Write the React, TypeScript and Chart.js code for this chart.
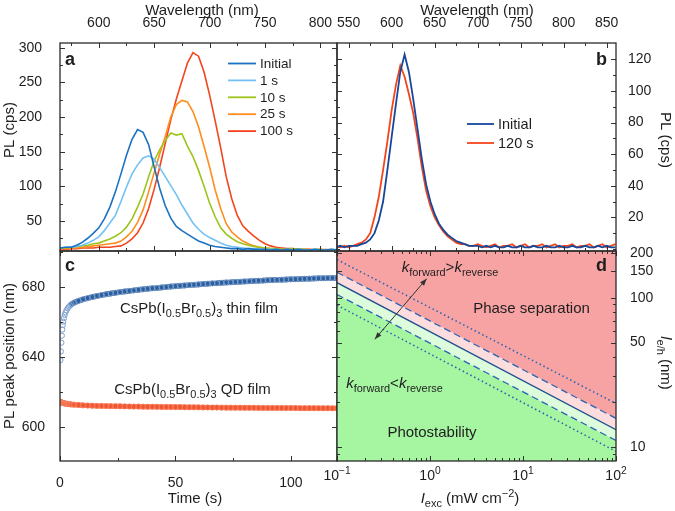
import React, { useEffect, useRef } from 'react';
import { Chart, registerables } from 'chart.js';

Chart.register(...registerables);

const FONT = '"Liberation Sans", Arial, Helvetica, sans-serif';
const TXT = '#1e1e1e';

// ---------- Panel a : PL spectra of thin film ----------
const wlA = [565,570,575,580,585,590,595,600,605,610,615,620,625,630,635,640,645,650,655,660,665,670,675,680,685,690,695,700,705,710,715,720,725,730,735,740,745,750,755,760,765,770,775,780,785,790,795,800,805,810,815];
const aInitial = [11,12,12,15,19,25,32,40,53,70, 92,118,145,168,182,178,160,128,97,72, 54,42,36,31,26,21,18,15,13,12, 11,10,10,9,10,9,9,9,8,9, 8,9,8,9,8,8,9,8,8,9, 8];
const a1s = [11,12,12,13,15,18,22,27,36,47, 58,78,99,118,131,141,144,139,127,114, 101,88,73,60,47,38,31,26,22,18, 15,13,12,11,10,10,9,9,9,9, 8,9,8,9,8,8,9,8,8,9, 8];
const a10s = [11,11,12,13,14,15,17,18,21,24, 28,33,41,53,70,89,114,137,153,166, 177,174,176,158,143,123,100,76,56,40, 31,25,20,17,15,13,12,11,10,10, 9,9,10,9,9,8,9,9,8,8, 9];
const a25s = [10,10,11,11,12,13,14,15,16,17, 18,21,27,35,48,66,92,120,147,172, 200,218,224,222,208,186,158,128,95,68, 46,34,27,21,17,14,12,11,10,10, 9,9,9,9,8,9,8,8,9,8, 8];
const a100s = [9,9,10,10,11,11,11,12,12,12, 13,14,18,24,33,47,68,96,128,162, 196,226,252,278,293,288,265,232,195,156, 114,82,58,43,35,28,22,17,14,12, 11,10,10,9,9,9,8,9,8,8, 8];
const aLabels = ['Initial', '1 s', '10 s', '25 s', '100 s'];
const aXTicks = [600, 650, 700, 750, 800];
const aXMinor = [575, 625, 675, 725, 775];
const aYTicks = [50, 100, 150, 200, 250, 300];
const aYMinor = [25, 75, 125, 175, 225, 275];

// ---------- Panel b : PL spectra of QD film ----------
const wlB = [535,540,545,550,555,560,565,570,575,580, 585,590,595,600,605,610,615,620,625,630, 635,640,645,650,655,660,665,670,675,680, 685,690,695,700,705,710,715,720,725,730, 735,740,745,750,755,760,765,770,775,780, 785,790,795,800,805,810,815,820,825,830, 835,840,845,850,855,860];
const bInitial = [1,2,1,2,2,2,3,4,6,10, 18,30,50,71,92,112,123,112,95,76, 57,41,30,22,16,12,9,7,5,4, 3,2,2,2,1,2,1,2,1,1, 2,1,1,2,1,1,2,1,1,2, 1,1,2,1,1,2,1,1,2,1, 1,2,1,2,1,1];
const b120s = [2,1,2,1,2,3,4,6,10,20, 33,50,68,88,104,116,109,98,86,70, 52,37,27,20,15,11,8,6,4,3, 3,2,2,3,2,1,2,3,1,2, 2,3,1,2,3,1,2,2,3,1, 2,3,1,2,2,3,1,2,2,3, 1,2,3,1,2,3];
const bLabels = ['Initial', '120 s'];
const bXTicks = [550, 600, 650, 700, 750, 800, 850];
const bXMinor = [575, 625, 675, 725, 775, 825];
const bYTicks = [20, 40, 60, 80, 100, 120];
const bYMinor = [0, 10, 30, 50, 70, 90, 110];

// ---------- Panel c : PL peak position vs time ----------
const cTime = [0.2,0.4,0.6,0.8,1.0,1.2,1.4,1.7,2.0,2.4,2.8,3.3,3.8,4.4,5,
  6,8,10,12,14,16,18,20,22,24,
  26,28,30,32,34,36,38,40,42,44,
  46,48,50,52,54,56,58,60,62,64,
  66,68,70,72,74,76,78,80,82,84,
  86,88,90,92,94,96,98,100,102,104,
  106,108,110,112,114,116,118,120];
const cThinFilm = [638,643,648,652,655.5,658,660,662,663.8,665.3,666.5,667.6,668.5,669.3,670,
  670.8,671.9,672.8,673.5,674.1,674.7,675.2,675.7,676.1,676.5,
  676.9,677.3,677.6,677.9,678.2,678.5,678.8,679.1,679.3,679.6,
  679.8,680.1,680.3,680.5,680.7,680.9,681.1,681.3,681.5,681.7,
  681.9,682.0,682.2,682.4,682.5,682.7,682.8,683.0,683.1,683.3,
  683.4,683.5,683.7,683.8,683.9,684.0,684.1,684.2,684.3,684.4,
  684.5,684.6,684.7,684.8,684.8,684.9,685.0,685.0];
const cQDFilm = [614.2,614.0,613.9,613.8,613.7,613.6,613.5,613.4,613.3,613.2,613.1,613.0,612.9,612.8,612.7,
  612.6,612.4,612.2,612.1,612.0,611.9,611.85,611.8,611.75,611.7,
  611.65,611.6,611.55,611.5,611.5,611.45,611.4,611.4,611.35,611.3,
  611.3,611.25,611.2,611.2,611.15,611.1,611.1,611.05,611.0,611.0,
  610.95,610.95,610.9,610.9,610.9,610.85,610.85,610.8,610.8,610.8,
  610.75,610.75,610.7,610.7,610.7,610.7,610.65,610.65,610.65,610.6,
  610.6,610.6,610.6,610.55,610.55,610.55,610.5,610.5];
const cXTicks = [0, 50, 100];
const cXMinor = [25, 75];
const cYTicks = [600, 640, 680];
const cYMinor = [620, 660, 700];

// ---------- Panel d : phase diagram ----------
const dIexc = [0.1, 100];
const dSolid = [126, 13];
const dDashUpper = [148, 15.5];
const dDashLower = [105, 11];
const dDotUpper = [180, 19.5];
const dDotLower = [89, 9.3];
const dArrowI = [0.92, 0.255];
const dArrowL = [134, 52.6];
const dXTicks = [0.1, 1, 10, 100];
const dXTickExp = ['\u22121', '0', '1', '2'];
const dXMinor = [0.2,0.3,0.4,0.5,0.6,0.7,0.8,0.9,2,3,4,5,6,7,8,9,20,30,40,50,60,70,80,90];
const dYTicks = [10, 50, 100, 150, 200];
const dYMinor = [9, 20, 30, 40, 60, 70, 80, 90];

// ---------- colours ----------
const aColors = ['#1a72c2', '#72c1f4', '#9dc41b', '#ff8d1c', '#f4441d'];
const bColors = ['#17479b', '#f4441d'];
const C_BLUE = '#2c5f9f';
const C_BLUE_LIGHT = '#7d9fcc';
const C_RED = '#f25630';
const C_RED_LIGHT = '#f7805f';
const SALMON = '#f8a3a3';
const PINK = '#fcdcdc';
const LGREEN = '#dcfcdc';
const GREEN = '#a5f5a1';
const D_NAVY = '#1c4f8f';
const D_BLUE = '#2b64b4';

// ---------- text helpers ----------
type Seg = { t: string; it?: boolean; sub?: boolean; sup?: boolean; b?: boolean };
function fontOf(s: Seg, size: number) {
  const sz = s.sub || s.sup ? size * 0.73 : size;
  return `${s.it ? 'italic ' : ''}${s.b ? 'bold ' : ''}${sz}px ${FONT}`;
}
function drawRich(ctx: CanvasRenderingContext2D, segs: Seg[], x: number, y: number, size: number, align = 'center', color = TXT) {
  ctx.save();
  ctx.fillStyle = color;
  ctx.textAlign = 'left';
  ctx.textBaseline = 'alphabetic';
  let w = 0;
  for (const s of segs) { ctx.font = fontOf(s, size); w += ctx.measureText(s.t).width; }
  let cx = align === 'center' ? x - w / 2 : align === 'right' ? x - w : x;
  for (const s of segs) {
    ctx.font = fontOf(s, size);
    const dy = s.sub ? size * 0.28 : s.sup ? -size * 0.42 : 0;
    ctx.fillText(s.t, cx, y + dy);
    cx += ctx.measureText(s.t).width;
  }
  ctx.restore();
}
function drawRot(ctx: CanvasRenderingContext2D, segs: Seg[], x: number, y: number, size: number, angle: number) {
  ctx.save();
  ctx.translate(x, y);
  ctx.rotate(angle);
  drawRich(ctx, segs, 0, 0, size, 'center');
  ctx.restore();
}

type Decor = {
  xId: string; yId: string;
  xMajor: number[]; xMinor: number[]; yMajor: number[]; yMinor: number[];
  draw?: (chart: any) => void;
};
function decorPlugin(d: Decor) {
  return {
    id: 'decor',
    afterDraw(chart: any) {
      const { ctx, chartArea: ca } = chart;
      const xs = chart.scales[d.xId];
      const ys = chart.scales[d.yId];
      ctx.save();
      ctx.strokeStyle = '#333';
      ctx.lineWidth = 1;
      ctx.beginPath();
      const xt = (vals: number[], len: number) => vals.forEach((v) => {
        const p = Math.round(xs.getPixelForValue(v)) + 0.5;
        ctx.moveTo(p, ca.top); ctx.lineTo(p, ca.top + len);
        ctx.moveTo(p, ca.bottom); ctx.lineTo(p, ca.bottom - len);
      });
      const yt = (vals: number[], len: number) => vals.forEach((v) => {
        const p = Math.round(ys.getPixelForValue(v)) + 0.5;
        ctx.moveTo(ca.left, p); ctx.lineTo(ca.left + len, p);
        ctx.moveTo(ca.right, p); ctx.lineTo(ca.right - len, p);
      });
      xt(d.xMajor, 5); xt(d.xMinor, 3); yt(d.yMajor, 5); yt(d.yMinor, 3);
      ctx.stroke();
      ctx.lineWidth = 1.3;
      ctx.strokeStyle = '#2a2a2a';
      ctx.strokeRect(ca.left, ca.top, ca.right - ca.left, ca.bottom - ca.top);
      ctx.restore();
      if (d.draw) d.draw(chart);
    },
  };
}

const tickFont = { family: FONT, size: 14 };
const baseAxis = (extra: any) => ({
  grid: { display: false },
  border: { display: false },
  ...extra,
  ticks: { color: TXT, font: tickFont, autoSkip: false, maxRotation: 0, minRotation: 0, callback: (v: any) => String(v), ...(extra.ticks || {}) },
});
const setTicks = (vals: number[]) => (s: any) => { s.ticks = vals.map((v) => ({ value: v })); };
const baseOptions = (padding: any, scales: any, extraPlugins: any = {}) => ({
  responsive: false,
  maintainAspectRatio: false,
  animation: false,
  devicePixelRatio: 1,
  events: [],
  layout: { padding },
  plugins: { legend: { display: false }, tooltip: { enabled: false }, ...extraPlugins },
  scales,
});

function makeA(canvas: HTMLCanvasElement) {
  const series = [aInitial, a1s, a10s, a25s, a100s];
  return new Chart(canvas, {
    type: 'line',
    data: {
      datasets: series.map((vals, k) => ({
        label: aLabels[k],
        data: wlA.map((x, i) => ({ x, y: vals[i] })),
        borderColor: aColors[k],
        borderWidth: 1.6,
        pointRadius: 0,
        fill: false,
        tension: 0,
      })),
    },
    options: baseOptions({ left: 0, top: 0, right: 338, bottom: 260 }, {
      x: baseAxis({ type: 'linear', position: 'top', min: 565, max: 815, ticks: { padding: 3 },
        afterBuildTicks: setTicks(aXTicks), afterFit: (s: any) => { s.height = 43; } }),
      y: baseAxis({ type: 'linear', position: 'left', min: 6.6, max: 307, ticks: { padding: 10 },
        afterBuildTicks: setTicks(aYTicks), afterFit: (s: any) => { s.width = 60; } }),
    }) as any,
    plugins: [decorPlugin({
      xId: 'x', yId: 'y', xMajor: aXTicks, xMinor: aXMinor, yMajor: aYTicks, yMinor: aYMinor,
      draw: (chart: any) => {
        const ctx = chart.ctx;
        ctx.save();
        aLabels.forEach((lab, k) => {
          const y = 63.5 + k * 16.9;
          ctx.strokeStyle = aColors[k];
          ctx.lineWidth = 1.8;
          ctx.beginPath(); ctx.moveTo(228, y); ctx.lineTo(256, y); ctx.stroke();
          ctx.fillStyle = TXT;
          ctx.font = `13.5px ${FONT}`;
          ctx.textAlign = 'left';
          ctx.textBaseline = 'middle';
          ctx.fillText(lab, 260, y + 0.5);
        });
        ctx.restore();
        drawRich(ctx, [{ t: 'Wavelength (nm)' }], 202, 15, 15);
        drawRot(ctx, [{ t: 'PL (cps)' }], 14, 130, 15, -Math.PI / 2);
        drawRich(ctx, [{ t: 'a', b: true }], 65, 65, 18, 'left');
      },
    })],
  });
}

function makeB(canvas: HTMLCanvasElement) {
  const series = [bInitial, b120s];
  return new Chart(canvas, {
    type: 'line',
    data: {
      datasets: series.map((vals, k) => ({
        label: bLabels[k],
        data: wlB.map((x, i) => ({ x, y: vals[i] })),
        borderColor: bColors[k],
        borderWidth: 1.8,
        pointRadius: 0,
        fill: false,
        tension: 0,
      })),
    },
    options: baseOptions({ left: 337, top: 0, right: 0, bottom: 260 }, {
      x: baseAxis({ type: 'linear', position: 'top', min: 536.4, max: 860.8, ticks: { padding: 3 },
        afterBuildTicks: setTicks(bXTicks), afterFit: (s: any) => { s.height = 43; } }),
      y: baseAxis({ type: 'linear', position: 'right', min: -1.3, max: 130.3, ticks: { padding: 4 },
        afterBuildTicks: setTicks(bYTicks), afterFit: (s: any) => { s.width = 59; } }),
    }) as any,
    plugins: [decorPlugin({
      xId: 'x', yId: 'y', xMajor: bXTicks, xMinor: bXMinor, yMajor: bYTicks, yMinor: bYMinor,
      draw: (chart: any) => {
        const ctx = chart.ctx;
        ctx.save();
        bLabels.forEach((lab, k) => {
          const y = 124 + k * 19;
          ctx.strokeStyle = bColors[k];
          ctx.lineWidth = 1.8;
          ctx.beginPath(); ctx.moveTo(467, y); ctx.lineTo(494, y); ctx.stroke();
          ctx.fillStyle = TXT;
          ctx.font = `14.5px ${FONT}`;
          ctx.textAlign = 'left';
          ctx.textBaseline = 'middle';
          ctx.fillText(lab, 498, y + 0.5);
        });
        ctx.restore();
        drawRich(ctx, [{ t: 'Wavelength (nm)' }], 477, 15, 15);
        drawRot(ctx, [{ t: 'PL (cps)' }], 661, 140, 15, Math.PI / 2);
        drawRich(ctx, [{ t: 'b', b: true }], 607, 65, 18, 'right');
      },
    })],
  });
}

function makeC(canvas: HTMLCanvasElement) {
  const bandDs = (vals: number[], dark: string, light: string, fill: string, w: number) => ({
    data: cTime.map((x, i) => ({ x, y: vals[i] })),
    showLine: true,
    borderColor: dark,
    borderWidth: w,
    segment: { borderColor: (c: any) => (c.p0.parsed.x < 4 ? 'rgba(0,0,0,0)' : dark) },
    pointRadius: 2.6,
    pointBorderWidth: 1,
    pointBorderColor: light,
    pointBackgroundColor: fill,
    tension: 0,
  });
  return new Chart(canvas, {
    type: 'scatter',
    data: {
      datasets: [
        bandDs(cThinFilm, C_BLUE, C_BLUE_LIGHT, 'rgba(255,255,255,0)', 5.5),
        bandDs(cQDFilm, C_RED, C_RED_LIGHT, 'rgba(242,86,48,0.5)', 5),
      ],
    },
    options: baseOptions({ left: 0, top: 251, right: 338, bottom: 0 }, {
      x: baseAxis({ type: 'linear', position: 'bottom', min: 0, max: 120, ticks: { padding: 5.6 },
        afterBuildTicks: setTicks(cXTicks), afterFit: (s: any) => { s.height = 50; } }),
      y: baseAxis({ type: 'linear', position: 'left', min: 580.4, max: 700.4, ticks: { padding: 7 },
        afterBuildTicks: setTicks(cYTicks), afterFit: (s: any) => { s.width = 60; } }),
    }) as any,
    plugins: [decorPlugin({
      xId: 'x', yId: 'y', xMajor: cXTicks, xMinor: cXMinor, yMajor: cYTicks, yMinor: cYMinor,
      draw: (chart: any) => {
        const ctx = chart.ctx;
        drawRich(ctx, [{ t: 'CsPb(I' }, { t: '0.5', sub: true }, { t: 'Br' }, { t: '0.5', sub: true }, { t: ')' }, { t: '3', sub: true }, { t: ' thin film' }], 199, 312.5, 15);
        drawRich(ctx, [{ t: 'CsPb(I' }, { t: '0.5', sub: true }, { t: 'Br' }, { t: '0.5', sub: true }, { t: ')' }, { t: '3', sub: true }, { t: ' QD film' }], 192.5, 394, 15);
        drawRich(ctx, [{ t: 'Time (s)' }], 195, 503, 15);
        drawRot(ctx, [{ t: 'PL peak position (nm)' }], 14, 356, 15, -Math.PI / 2);
        drawRich(ctx, [{ t: 'c', b: true }], 65, 271, 18, 'left');
      },
    })],
  });
}

function makeD(canvas: HTMLCanvasElement) {
  const lineDs = (vals: number[], color: string, dash: number[], width: number, fill: any, bg: string) => ({
    data: dIexc.map((x, i) => ({ x, y: vals[i] })),
    borderColor: color,
    borderDash: dash,
    borderWidth: width,
    pointRadius: 0,
    fill,
    backgroundColor: bg,
    tension: 0,
  });
  return new Chart(canvas, {
    type: 'line',
    data: {
      datasets: [
        lineDs(dDashUpper, D_BLUE, [7, 4], 1.3, 'end', SALMON),
        lineDs(dSolid, D_NAVY, [], 1.3, 0, PINK),
        lineDs(dDashLower, D_BLUE, [7, 4], 1.3, 1, LGREEN),
        lineDs(dDotLower, D_BLUE, [1.5, 2.8], 1.6, false, 'rgba(0,0,0,0)'),
        lineDs(dDotUpper, D_BLUE, [1.5, 2.8], 1.6, false, 'rgba(0,0,0,0)'),
        lineDs(dDashLower, 'rgba(0,0,0,0)', [], 0, 'start', GREEN),
      ],
    },
    options: baseOptions({ left: 337, top: 251, right: 0, bottom: 0 }, {
      x: baseAxis({ type: 'logarithmic', position: 'bottom', min: 0.1, max: 100, ticks: { display: false },
        afterBuildTicks: setTicks(dXTicks), afterFit: (s: any) => { s.height = 50; } }),
      y: baseAxis({ type: 'logarithmic', position: 'right', min: 8.02, max: 205.6, ticks: { padding: 6 },
        afterBuildTicks: setTicks(dYTicks), afterFit: (s: any) => { s.width = 59; } }),
    }, { filler: { drawTime: 'beforeDatasetsDraw', propagate: false } }) as any,
    plugins: [decorPlugin({
      xId: 'x', yId: 'y', xMajor: dXTicks, xMinor: dXMinor, yMajor: dYTicks, yMinor: dYMinor,
      draw: (chart: any) => {
        const ctx = chart.ctx;
        const xs = chart.scales.x;
        const ys = chart.scales.y;
        const x1 = xs.getPixelForValue(dArrowI[0]);
        const y1 = ys.getPixelForValue(dArrowL[0]);
        const x2 = xs.getPixelForValue(dArrowI[1]);
        const y2 = ys.getPixelForValue(dArrowL[1]);
        ctx.save();
        ctx.strokeStyle = '#333';
        ctx.fillStyle = '#333';
        ctx.lineWidth = 1;
        ctx.beginPath(); ctx.moveTo(x1, y1); ctx.lineTo(x2, y2); ctx.stroke();
        const head = (ax: number, ay: number, bx: number, by: number) => {
          const a = Math.atan2(by - ay, bx - ax);
          const L = 7, W = 2.6;
          ctx.beginPath();
          ctx.moveTo(bx, by);
          ctx.lineTo(bx - L * Math.cos(a) + W * Math.sin(a), by - L * Math.sin(a) - W * Math.cos(a));
          ctx.lineTo(bx - L * Math.cos(a) - W * Math.sin(a), by - L * Math.sin(a) + W * Math.cos(a));
          ctx.closePath();
          ctx.fill();
        };
        head(x2, y2, x1, y1);
        head(x1, y1, x2, y2);
        ctx.restore();
        drawRich(ctx, [{ t: 'k', it: true }, { t: 'forward', sub: true }, { t: '>' }, { t: 'k', it: true }, { t: 'reverse', sub: true }], 450, 271.5, 15);
        drawRich(ctx, [{ t: 'k', it: true }, { t: 'forward', sub: true }, { t: '<' }, { t: 'k', it: true }, { t: 'reverse', sub: true }], 394.5, 388, 15);
        drawRich(ctx, [{ t: 'Phase separation' }], 531.5, 313, 15);
        drawRich(ctx, [{ t: 'Photostability' }], 432, 436.5, 15);
        dXTicks.forEach((v, i) => {
          drawRich(ctx, [{ t: '10' }, { t: dXTickExp[i], sup: true }], xs.getPixelForValue(v), 480, 14);
        });
        drawRich(ctx, [{ t: 'I', it: true }, { t: 'exc', sub: true }, { t: ' (mW cm' }, { t: '\u22122', sup: true }, { t: ')' }], 470, 503, 15);
        drawRot(ctx, [{ t: 'l', it: true }, { t: 'e/h', sub: true }, { t: ' (nm)' }], 661, 363, 15, Math.PI / 2);
        drawRich(ctx, [{ t: 'd', b: true }], 607, 271, 18, 'right');
      },
    })],
  });
}

export default function App() {
  const ra = useRef<HTMLCanvasElement>(null);
  const rb = useRef<HTMLCanvasElement>(null);
  const rc = useRef<HTMLCanvasElement>(null);
  const rd = useRef<HTMLCanvasElement>(null);
  useEffect(() => {
    const charts = [makeC(rc.current!), makeD(rd.current!), makeA(ra.current!), makeB(rb.current!)];
    return () => charts.forEach((c) => c.destroy());
  }, []);
  const cs: React.CSSProperties = { position: 'absolute', left: 0, top: 0 };
  return (
    <div style={{ position: 'fixed', left: 0, top: 0, width: 675, height: 511, background: '#fff', overflow: 'hidden' }}>
      <canvas ref={rc} width={675} height={511} style={cs} />
      <canvas ref={rd} width={675} height={511} style={cs} />
      <canvas ref={ra} width={675} height={511} style={cs} />
      <canvas ref={rb} width={675} height={511} style={cs} />
    </div>
  );
}
